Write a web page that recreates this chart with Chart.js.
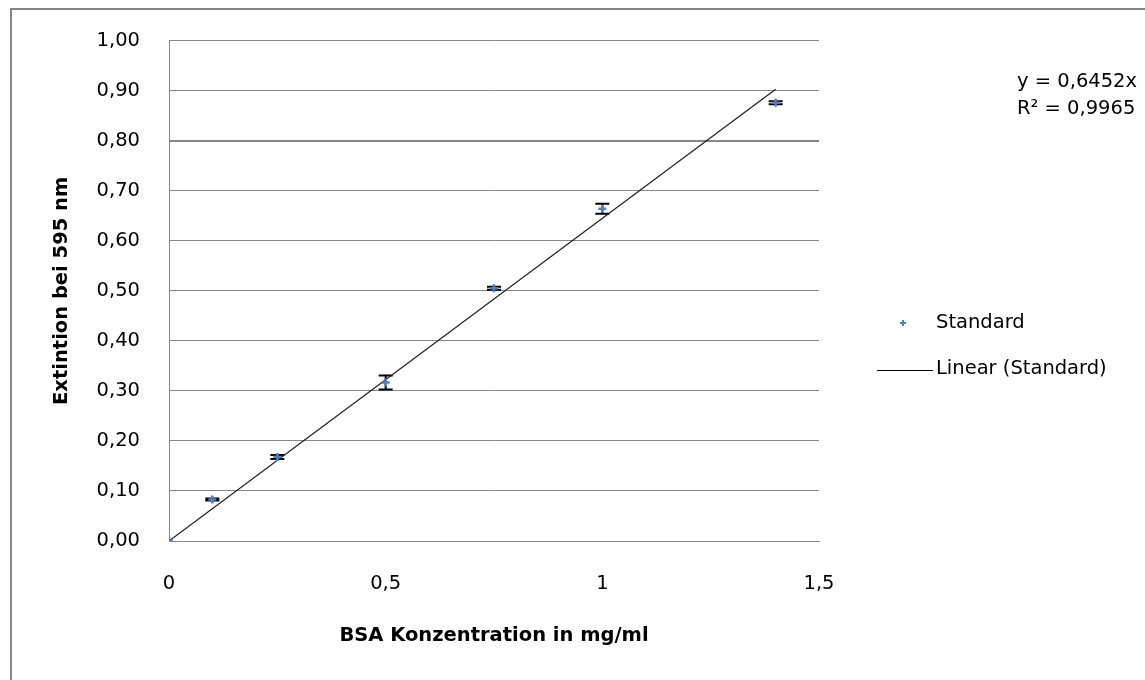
<!DOCTYPE html>
<html>
<head>
<meta charset="utf-8">
<title>BSA Standard</title>
<script src="https://cdn.jsdelivr.net/npm/chart.js@4/dist/chart.umd.min.js"></script>
<style>
  html, body { margin: 0; padding: 0; background: #fff; }
  #wrap { position: relative; width: 1145px; height: 680px; overflow: hidden; }
  #frame {
    position: absolute; left: 10px; top: 8px; width: 1200px; height: 700px;
    border-left: 2px solid #878787; border-top: 2px solid #878787;
    pointer-events: none;
  }
  canvas { position: absolute; left: 0; top: 0; }
</style>
</head>
<body>
<div id="wrap">
  <div id="frame"></div>
  <canvas id="bsaChart" width="1145" height="680"></canvas>
</div>
<script>
// ======================================
// Data
// ======================================

const concentrations = [0, 0.1, 0.25, 0.5, 0.75, 1.0, 1.4];
const extinction = [0, 0.083, 0.168, 0.317, 0.505, 0.664, 0.876];
const extinctionErr = [0, 0.002, 0.004, 0.014, 0.003, 0.010, 0.003];

const trendX = [0, 1.4];
const trendY = [0, 0.903];

const xTickValues = [0, 0.5, 1, 1.5];
const xTickLabels = ["0", "0,5", "1", "1,5"];
const yTickValues = [0, 0.1, 0.2, 0.3, 0.4, 0.5, 0.6, 0.7, 0.8, 0.9, 1.0];
const yTickLabels = ["0,00", "0,10", "0,20", "0,30", "0,40", "0,50", "0,60", "0,70", "0,80", "0,90", "1,00"];

const equationLines = ["y = 0,6452x", "R\u00b2 = 0,9965"];

// ======================================
// Styles
// ======================================

const FONT = "'DejaVu Sans', sans-serif";
const FONT_SIZE = 19.5;
const GRID_COLOR = "#878787";
const POINT_COLOR = "#4F81BD";

// ======================================
// Plugins
// ======================================

const errorBars = {
  id: "errorBars",
  beforeDatasetsDraw(chart) {
    const { ctx } = chart;
    const xs = chart.scales.x;
    const ys = chart.scales.y;

    ctx.save();
    ctx.strokeStyle = "#000";
    ctx.lineWidth = 2;

    concentrations.forEach((x, i) => {
      const err = extinctionErr[i];
      if (!err) return;

      const px = xs.getPixelForValue(x);
      const top = ys.getPixelForValue(extinction[i] + err);
      const bottom = ys.getPixelForValue(extinction[i] - err);

      ctx.beginPath();
      ctx.moveTo(px, top);
      ctx.lineTo(px, bottom);
      ctx.moveTo(px - 7, top);
      ctx.lineTo(px + 7, top);
      ctx.moveTo(px - 7, bottom);
      ctx.lineTo(px + 7, bottom);
      ctx.stroke();
    });

    ctx.restore();
  },
};

const sideNotes = {
  id: "sideNotes",
  afterDraw(chart) {
    const { ctx } = chart;

    ctx.save();
    ctx.font = FONT_SIZE + "px " + FONT;
    ctx.fillStyle = "#000";
    ctx.textAlign = "left";
    ctx.textBaseline = "middle";

    // legend: Standard
    ctx.strokeStyle = POINT_COLOR;
    ctx.lineWidth = 2;
    ctx.beginPath();
    ctx.moveTo(903 - 3, 323);
    ctx.lineTo(903 + 3, 323);
    ctx.moveTo(903, 323 - 3);
    ctx.lineTo(903, 323 + 3);
    ctx.stroke();
    ctx.fillText(chart.data.datasets[0].label, 936, 323);

    // legend: Linear (Standard)
    ctx.strokeStyle = "#000";
    ctx.lineWidth = 1;
    ctx.beginPath();
    ctx.moveTo(877, 370.5);
    ctx.lineTo(933, 370.5);
    ctx.stroke();
    ctx.fillText(chart.data.datasets[1].label, 936, 369);

    // trendline equation
    ctx.fillText(equationLines[0], 1017, 82);
    ctx.fillText(equationLines[1], 1017, 109);

    ctx.restore();
  },
};

// ======================================
// Chart
// ======================================

const canvas = document.getElementById("bsaChart");

new Chart(canvas, {
  type: "scatter",

  data: {
    datasets: [
      {
        label: "Standard",
        data: concentrations.map((x, i) => ({ x: x, y: extinction[i] })),
        pointStyle: "cross",
        pointRadius: 4,
        pointBorderWidth: 2.5,
        pointBorderColor: POINT_COLOR,
        pointBackgroundColor: POINT_COLOR,
        showLine: false,
        order: 0,
      },
      {
        label: "Linear (Standard)",
        data: trendX.map((x, i) => ({ x: x, y: trendY[i] })),
        showLine: true,
        borderColor: "#1f1f1f",
        borderWidth: 1.2,
        pointRadius: 0,
        order: 1,
      },
    ],
  },

  options: {
    responsive: false,
    animation: false,
    events: [],

    layout: {
      padding: { top: 39, right: 326, bottom: 0, left: 0 },
    },

    plugins: {
      legend: { display: false },
      tooltip: { enabled: false },
    },

    scales: {
      x: {
        type: "linear",
        min: 0,
        max: 1.5,
        afterBuildTicks(scale) {
          scale.ticks = xTickValues.map((v) => ({ value: v }));
        },
        afterFit(scale) {
          scale.height = 139;
        },
        grid: { display: false, drawTicks: false },
        border: { display: true, color: GRID_COLOR, width: 1 },
        ticks: {
          padding: 31,
          color: "#000",
          font: { family: FONT, size: FONT_SIZE },
          callback: (value, index) => xTickLabels[index],
        },
        title: {
          display: true,
          text: "BSA Konzentration in mg/ml",
          color: "#000",
          font: { family: FONT, size: FONT_SIZE, weight: "bold" },
          padding: { top: 0, bottom: 32 },
        },
      },

      y: {
        type: "linear",
        min: 0,
        max: 1,
        afterBuildTicks(scale) {
          scale.ticks = yTickValues.map((v) => ({ value: v }));
        },
        afterFit(scale) {
          scale.width = 169;
        },
        grid: {
          color: GRID_COLOR,
          drawTicks: false,
          lineWidth: (c) => (c.tick && Math.abs(c.tick.value - 0.8) < 1e-6 ? 2 : 1),
        },
        border: { display: true, color: GRID_COLOR, width: 1 },
        ticks: {
          padding: 29,
          color: "#000",
          font: { family: FONT, size: FONT_SIZE },
          callback: (value, index) => yTickLabels[index],
        },
        title: {
          display: true,
          text: "Extintion bei 595 nm",
          color: "#000",
          font: { family: FONT, size: FONT_SIZE, weight: "bold" },
          padding: { top: 50, bottom: 0 },
        },
      },
    },
  },

  plugins: [errorBars, sideNotes],
});
</script>
</body>
</html>
